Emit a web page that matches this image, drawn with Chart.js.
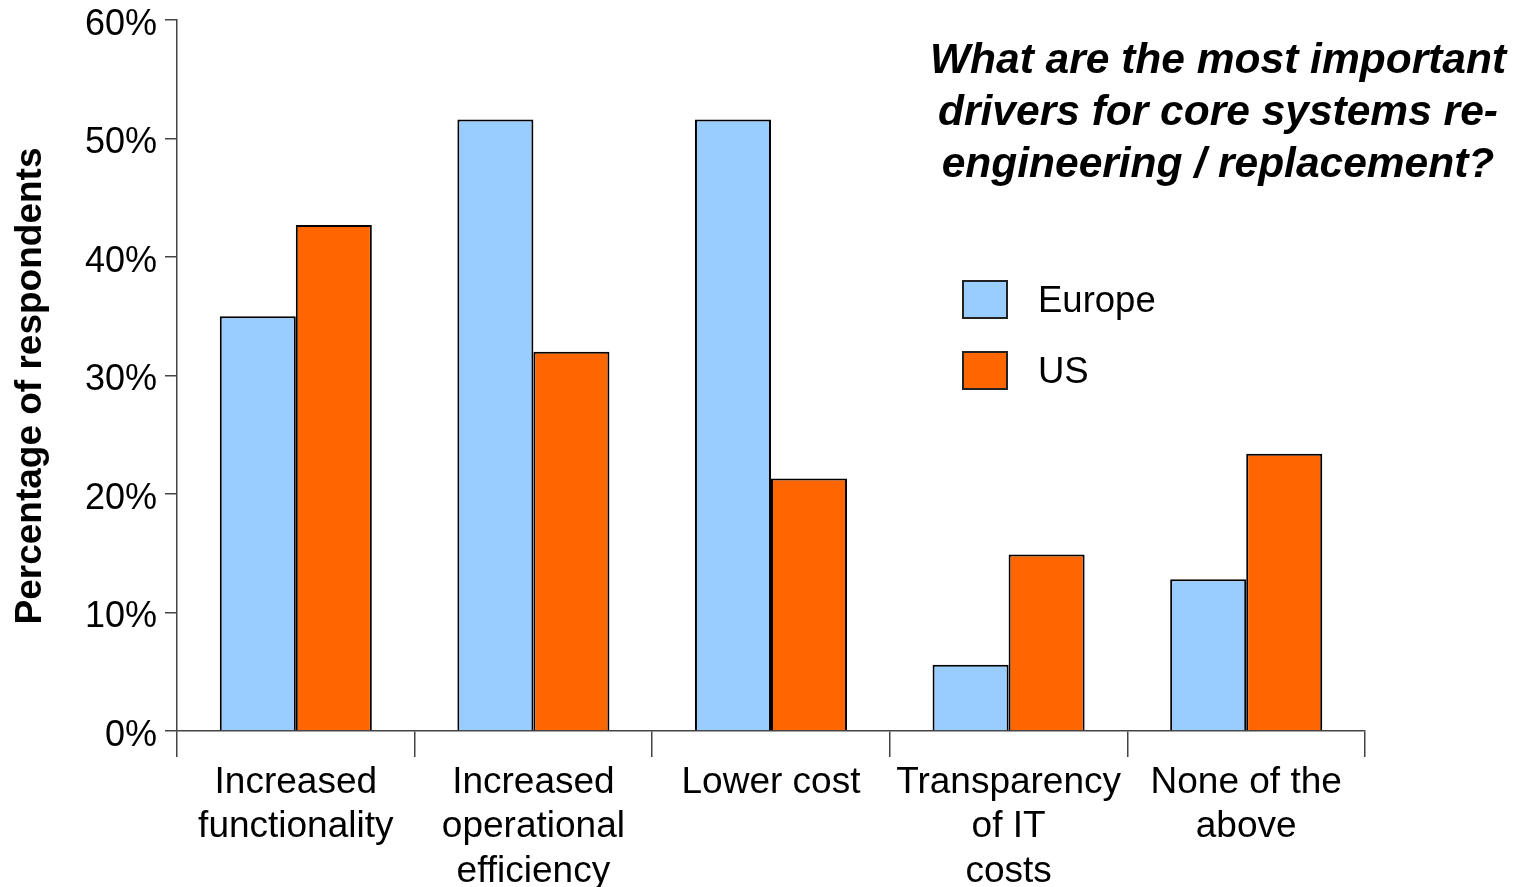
<!DOCTYPE html>
<html>
<head>
<meta charset="utf-8">
<script src="https://cdn.jsdelivr.net/npm/chart.js@4.4.1/dist/chart.umd.min.js"></script>
<style>
  body { margin: 0; background: #fff; }
  #wrap { width: 1516px; height: 887px; position: relative; }
</style>
</head>
<body>
<div id="wrap"><canvas id="grafico"></canvas></div>
<script>
// datos
const categorias = [
    ['Increased', 'functionality'],
    ['Increased', 'operational', 'efficiency'],
    'Lower cost',
    ['Transparency', 'of IT', 'costs'],
    ['None of the', 'above']
];
const europa = [35.0, 51.6, 51.6, 5.6, 12.8];
const eeuu = [42.7, 32.0, 21.3, 14.9, 23.4];
const ticksY = [0, 10, 20, 30, 40, 50, 60];
const tituloLineas = [
    'What are the most important',
    'drivers for core systems re-',
    'engineering / replacement?'
];
const tituloY = 'Percentage of respondents';

const FUENTE = "'Liberation Sans', Arial, sans-serif";

// titulo, leyenda y titulo del eje dibujados a mano
const extras = {
    id: 'extras',
    afterDraw(chart) {
        const c = chart.ctx;
        c.save();
        c.fillStyle = '#000';
        c.textAlign = 'center';
        c.textBaseline = 'middle';
        c.font = 'italic bold 42.5px ' + FUENTE;
        tituloLineas.forEach((t, i) => c.fillText(t, 1218, 61 + i * 52));

        c.font = '36.5px ' + FUENTE;
        c.textAlign = 'left';
        chart.data.datasets.forEach((ds, i) => {
            const y = 281 + i * 71;
            c.fillStyle = ds.backgroundColor;
            c.fillRect(963, y, 44, 37);
            c.strokeStyle = '#222';
            c.lineWidth = 2;
            c.strokeRect(963, y, 44, 37);
            c.fillStyle = '#000';
            c.fillText(ds.label, 1038, y + 21);
        });

        // titulo eje y
        c.translate(31, 386);
        c.rotate(-Math.PI / 2);
        c.textAlign = 'center';
        c.font = 'bold 37px ' + FUENTE;
        c.fillText(tituloY, 0, 0);
        c.restore();
    }
};

window.onload = function () {
    const ctx = document.getElementById('grafico');
    new Chart(ctx, {
        type: 'bar',
        data: {
            labels: categorias,
            datasets: [
                { label: 'Europe', data: europa, backgroundColor: '#99CCFF', borderColor: '#000', borderWidth: 2 },
                { label: 'US', data: eeuu, backgroundColor: '#FF6600', borderColor: '#000', borderWidth: 2 }
            ]
        },
        options: {
            responsive: true,
            maintainAspectRatio: false,
            animation: false,
            categoryPercentage: 0.64,
            barPercentage: 1.0,
            layout: { padding: { top: 20, right: 151, left: 0, bottom: 0 } },
            plugins: {
                legend: { display: false },
                tooltip: { enabled: false }
            },
            scales: {
                x: {
                    afterFit: s => { s.height = 156; s.paddingLeft = 0; s.paddingRight = 0; },
                    grid: { offset: true, drawOnChartArea: false, tickLength: 26, color: '#444', lineWidth: 1.5 },
                    border: { color: '#444', width: 1.5 },
                    ticks: {
                        autoSkip: false, maxRotation: 0, padding: 3, color: '#000',
                        font: { family: FUENTE, size: 37, lineHeight: 1.21 }
                    }
                },
                y: {
                    min: 0, max: 60,
                    afterFit: s => { s.width = 177; s.paddingTop = 0; s.paddingBottom = 0; },
                    afterBuildTicks: s => { s.ticks = ticksY.map(v => ({ value: v })); },
                    grid: { drawOnChartArea: false, tickLength: 12, color: '#444', lineWidth: 1.5 },
                    border: { color: '#444', width: 1.5 },
                    ticks: {
                        padding: 8, color: '#000', labelOffset: 5,
                        font: { family: FUENTE, size: 36 },
                        callback: v => v + '%'
                    }
                }
            }
        },
        plugins: [extras]
    });
};
</script>
</body>
</html>
